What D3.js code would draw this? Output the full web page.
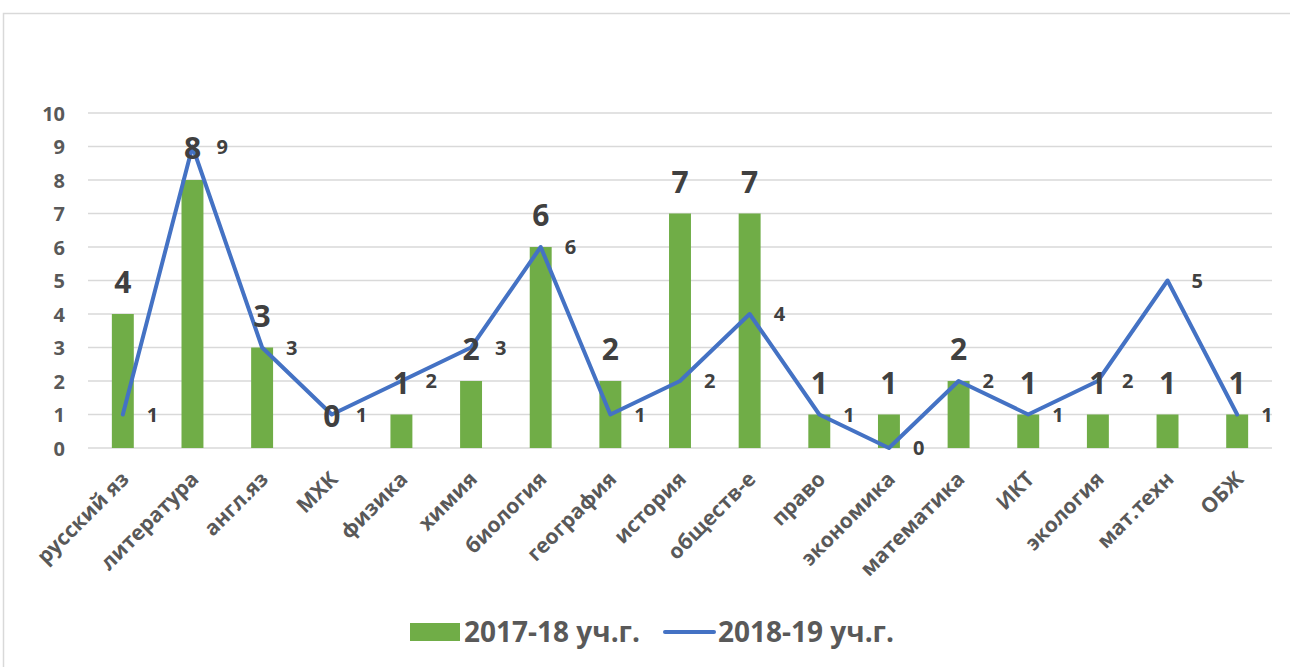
<!DOCTYPE html>
<html><head><meta charset="utf-8">
<script src="https://cdn.jsdelivr.net/npm/d3@7"></script>
<style>body{margin:0;background:#fff}svg{display:block}text{font-family:"Open Sans",sans-serif;font-weight:bold}</style>
</head><body>
<script>
const categories = ["русский яз","литература","англ.яз","МХК","физика","химия","биология","география","история","обществ-е","право","экономика","математика","ИКТ","экология","мат.техн","ОБЖ"];
const values2017 = [4,8,3,0,1,2,6,2,7,7,1,1,2,1,1,1,1];
const values2018 = [1,9,3,1,2,3,6,1,2,4,1,0,2,1,2,5,1];
const yTicks = [0,1,2,3,4,5,6,7,8,9,10];
const seriesNames = ["2017-18 уч.г.","2018-19 уч.г."];

(function(){
const W = 1290, H = 667;
const svg = d3.select("body").append("svg").attr("width", W).attr("height", H);
svg.append("rect").attr("x",3.5).attr("y",13.5).attr("width",1400).attr("height",800)
  .attr("fill","none").attr("stroke","#d9d9d9").attr("stroke-width",1.5);

const pl = 88, pr = 1272, pt = 113, pb = 448;
const x = d3.scaleBand().domain(categories).range([pl, pr]).padding(0);
const y = d3.scaleLinear().domain([0,10]).range([pb, pt]);
const cx = c => x(c) + x.bandwidth()/2;
const barW = x.bandwidth()*0.315;

svg.append("g").selectAll("line").data(yTicks).join("line")
  .attr("x1", pl).attr("x2", pr).attr("y1", d=>y(d)).attr("y2", d=>y(d))
  .attr("stroke","#d9d9d9").attr("stroke-width",1.5);

const yAxis = d3.axisLeft(y).tickValues(yTicks).tickSize(0).tickPadding(0);
const yg = svg.append("g").attr("transform",`translate(${65},0)`).call(yAxis);
yg.select(".domain").remove();
yg.selectAll("text").attr("fill","#595959").style("font-size","20px").style("font-family","'Open Sans',sans-serif").style("font-weight","bold").attr("dy","0.36em");

svg.append("g").selectAll("rect").data(categories).join("rect")
  .attr("x", c=>cx(c)-barW/2).attr("width", barW)
  .attr("y", (c,i)=>y(values2017[i])).attr("height",(c,i)=>pb - y(values2017[i]))
  .attr("fill","#70ad47");

const line = d3.line().x((d,i)=>cx(categories[i])).y(d=>y(d));
svg.append("path").datum(values2018).attr("d", line).attr("fill","none")
  .attr("stroke","#4472c4").attr("stroke-width",4).attr("stroke-linejoin","round").attr("stroke-linecap","round");

svg.append("g").selectAll("text").data(categories).join("text")
  .attr("x", c=>cx(c)).attr("y",(c,i)=>y(values2017[i]) - 21)
  .attr("text-anchor","middle").attr("fill","#404040").style("font-size","30px")
  .text((c,i)=>values2017[i]);

svg.append("g").selectAll("text").data(categories).join("text")
  .attr("x", c=>cx(c)+24).attr("y",(c,i)=>y(values2018[i])).attr("dy","0.36em")
  .attr("fill","#404040").style("font-size","20px")
  .text((c,i)=>values2018[i]);

svg.append("g").selectAll("text").data(categories).join("text")
  .attr("transform", c=>`translate(${cx(c)+3},${476}) rotate(-45)`)
  .attr("text-anchor","end").attr("dy","0.3em").attr("fill","#595959").style("font-size","21px")
  .text(c=>c);

const lg = svg.append("g");
lg.append("rect").attr("x",410).attr("y",623).attr("width",50).attr("height",18).attr("fill","#70ad47");
lg.append("text").attr("x",464).attr("y",632).attr("dy","0.36em").attr("fill","#595959").style("font-size","28px").text(seriesNames[0]);
lg.append("line").attr("x1",665).attr("x2",714).attr("y1",632).attr("y2",632).attr("stroke","#4472c4").attr("stroke-width",4).attr("stroke-linecap","round");
lg.append("text").attr("x",718).attr("y",632).attr("dy","0.36em").attr("fill","#595959").style("font-size","28px").text(seriesNames[1]);
})();
</script>
</body></html>
